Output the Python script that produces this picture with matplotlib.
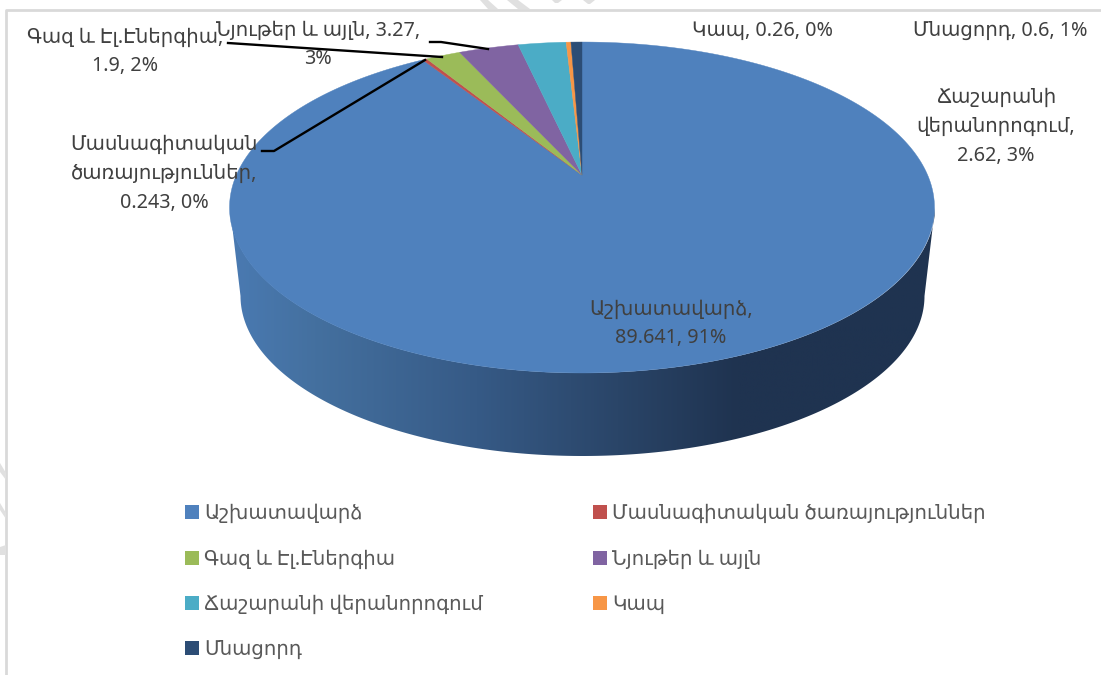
import numpy as np
import matplotlib
matplotlib.use("Agg")
import matplotlib.pyplot as plt
from matplotlib.colors import LinearSegmentedColormap
from matplotlib.patches import Polygon, Patch

categories = ["Աշխատավարձ", "Մասնագիտական ծառայություններ", "Գազ և Էլ.Էներգիա",
              "Նյութեր և այլն", "Ճաշարանի վերանորոգում", "Կապ", "Մնացորդ"]
values = [89.641, 0.243, 1.9, 3.27, 2.62, 0.26, 0.6]
percents = [91, 0, 2, 3, 3, 0, 1]
colors = ["#4f81bd", "#c0504d", "#9bbb59", "#8064a2", "#4bacc6", "#f79646", "#2c4d75"]

plt.rcParams['font.family'] = ['Noto Sans', 'DejaVu Sans']
TEXT = "#404040"

fig = plt.figure(figsize=(11.01, 6.75), dpi=100)
ax = fig.add_axes([0, 0, 1, 1])


# disc seen in perspective, the centre lands on the apex and not on the ellipse centre
def disc_point(angle):
    u = np.sin(angle)
    v = np.cos(angle)
    w = 1 + 0.1964 * v
    return 582 + 345.6 * u / w, 175 - 159.1 * v / w


# side wall
t = np.linspace(0, np.pi, 200)
top_x = 582.5 + 352.5 * np.cos(t)
top_y = 207.5 + 165.5 * np.sin(t)
low_x = 582.5 + 342 * np.cos(t)
low_y = 296 + 160 * np.sin(t)
wall = Polygon(np.column_stack([np.r_[top_x, low_x[::-1]], np.r_[top_y, low_y[::-1]]]),
               closed=True, fc="none", ec="none")
ax.add_patch(wall)
shade = LinearSegmentedColormap.from_list("wall", [
    (0.0, "#4a7ab2"), (0.12, "#44709f"), (0.35, "#365a86"), (0.55, "#2a4568"),
    (0.72, "#1f3350"), (1.0, "#1f3350")])
im = ax.imshow(np.linspace(0, 1, 256).reshape(1, -1), cmap=shade, aspect="auto",
               extent=[230, 935, 460, 200], zorder=1)
im.set_clip_path(wall)

# top of the pie
total = sum(values)
edges = np.cumsum([0] + values) / total * 2 * np.pi
for i in range(len(values)):
    a = np.linspace(edges[i], edges[i + 1], max(2, int((edges[i + 1] - edges[i]) * 80)))
    x, y = disc_point(a)
    ax.add_patch(Polygon(np.column_stack([np.r_[582, x], np.r_[175, y]]), closed=True,
                         fc=colors[i], ec=colors[i], lw=0.3, zorder=2))

# leader lines
ax.plot([262, 274, 425], [151, 151, 60], color="black", lw=1.7, zorder=4)
ax.plot([228, 442], [43, 57], color="black", lw=1.7, zorder=4)
ax.plot([430, 441, 488], [42, 42, 49], color="black", lw=1.7, zorder=4)

# data labels
labels = [
    ("Աշխատավարձ,\n89.641, 91%", 671, 324),
    ("Մասնագիտական\nծառայություններ,\n0.243, 0%", 164, 174),
    ("Գազ և Էլ.Էներգիա,\n1.9, 2%", 125, 52),
    ("Նյութեր և այլն, 3.27,\n3%", 318, 45),
    ("Ճաշարանի\nվերանորոգում,\n2.62, 3%", 996, 127),
    ("Կապ, 0.26, 0%", 763, 31),
    ("Մնացորդ, 0.6, 1%", 1000, 31),
]
for s, x, y in labels:
    ax.text(x, y, s, ha="center", va="center", fontsize=14.25, color=TEXT,
            linespacing=1.58, zorder=5)

# legend is filled by column, so rows come out as in the picture
order = [0, 2, 4, 6, 1, 3, 5]
handles = [Patch(fc=colors[i], ec="none", label=categories[i]) for i in order]
ax.legend(handles=handles, ncols=2, loc="upper left", bbox_to_anchor=(185 / 1101, 1 - 504 / 675),
          frameon=False, fontsize=14.2, labelcolor="#595959", handlelength=0.71, handleheight=0.71,
          handletextpad=0.26, labelspacing=1.29, columnspacing=5.6, borderpad=0, borderaxespad=0)

# frame of the screenshot and what is left of the watermark outside it
ax.plot([6, 6, 1101], [675, 10, 10], color="#d9d9d9", lw=2, zorder=0)
ax.fill([480, 488, 498, 488], [0, 0, 9, 9], color="#e0e0e0", lw=0, zorder=0)
ax.fill([507, 518, 530, 518], [0, 0, 9, 9], color="#e0e0e0", lw=0, zorder=0)
ax.fill([552, 562, 558, 555], [0, 0, 3, 3], color="#e0e0e0", lw=0, zorder=0)
ax.fill([583, 595, 590, 588], [0, 0, 4, 4], color="#e0e0e0", lw=0, zorder=0)
ax.fill([0, 6, 6, 0], [463, 473, 480, 472], color="#e0e0e0", lw=0, zorder=0)
ax.fill([0, 6, 6, 0], [503, 513, 519, 510], color="#e0e0e0", lw=0, zorder=0)
ax.fill([0, 6, 6, 0], [547, 545, 555, 555], color="#e0e0e0", lw=0, zorder=0)

ax.set_xlim(0, 1101)
ax.set_ylim(675, 0)
ax.axis("off")
fig.savefig("out.png", dpi=100)
